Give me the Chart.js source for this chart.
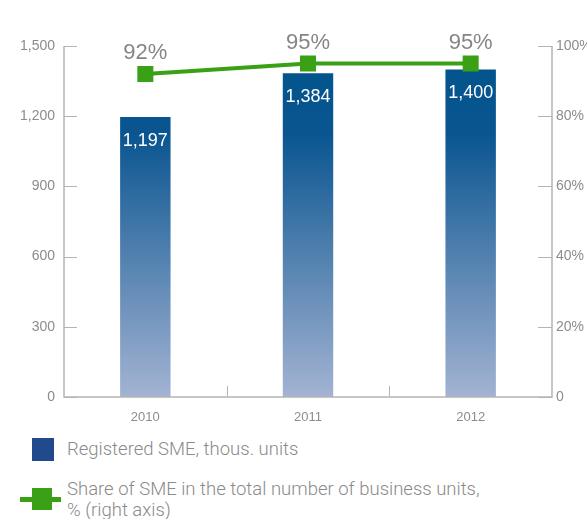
<!DOCTYPE html>
<html>
<head>
<meta charset="utf-8">
<script src="https://cdn.jsdelivr.net/npm/chart.js@4"></script>
<style>
  body { margin: 0; background: #fff; width: 587px; height: 519px; overflow: hidden; }
  #wrap { position: relative; width: 587px; height: 430px; }
  .legend { position: absolute; left: 0; top: 0; font-family: Roboto, sans-serif; font-weight: 300; font-size: 18.5px; color: #8a8a8a; }
  .legend .item { position: absolute; left: 67px; white-space: nowrap; line-height: 21px; }
  .sw { position: absolute; }
</style>
</head>
<body>
<div id="wrap"><canvas id="chart" width="587" height="430"></canvas></div>
<div class="legend">
  <div class="sw" style="left:32px; top:438px; width:22px; height:23px; background:#214a8c"></div>
  <div class="item" style="top:439px">Registered SME, thous. units</div>
  <div class="sw" style="left:20px; top:497px; width:41px; height:5px; background:#3aa015"></div>
  <div class="sw" style="left:32px; top:488px; width:20px; height:22px; background:#3aa015"></div>
  <div class="item" style="top:479px">Share of SME in the total number of business units,<br>% (right axis)</div>
</div>
<script>
// data
var years = ['2010', '2011', '2012'];
var smeCount = [1197, 1384, 1400];   // thous. units
var smeShare = [92, 95, 95];         // % of all business units
var leftTicks = [0, 300, 600, 900, 1200, 1500];
var rightTicks = [0, 20, 40, 60, 80, 100];

var axisColor = '#b4b4b4';
var textColor = '#8c8c8c';
var narrow = '"Liberation Sans Narrow", "Liberation Sans", sans-serif';

// inward tick marks and category dividers
var axisMarks = {
  id: 'axisMarks',
  afterDatasetsDraw: function(chart) {
    var ctx = chart.ctx, a = chart.chartArea;
    var y = chart.scales.y, y1 = chart.scales.y1, x = chart.scales.x;
    ctx.save();
    ctx.strokeStyle = axisColor;
    ctx.lineWidth = 1.5;
    ctx.beginPath();
    ctx.moveTo(a.left, a.top); ctx.lineTo(a.left, a.bottom); ctx.lineTo(a.right, a.bottom); ctx.lineTo(a.right, a.top);
    ctx.stroke();
    ctx.lineWidth = 1;
    ctx.beginPath();
    leftTicks.forEach(function(v) {
      var py = Math.round(y.getPixelForValue(v)) + 0.5;
      ctx.moveTo(a.left, py); ctx.lineTo(a.left + 13, py);
    });
    rightTicks.forEach(function(v) {
      var py = Math.round(y1.getPixelForValue(v)) + 0.5;
      ctx.moveTo(a.right, py); ctx.lineTo(a.right - 14, py);
    });
    for (var i = 0; i < years.length - 1; i++) {
      var px = Math.round((x.getPixelForValue(i) + x.getPixelForValue(i + 1)) / 2) + 0.5;
      ctx.moveTo(px, a.bottom); ctx.lineTo(px, a.bottom - 11);
    }
    ctx.stroke();
    ctx.restore();
  }
};

// value labels: bar values inside the bar tops, shares above the points
var valueLabels = {
  id: 'valueLabels',
  afterDatasetsDraw: function(chart) {
    var ctx = chart.ctx;
    ctx.save();
    ctx.textAlign = 'center';
    ctx.font = '18px ' + narrow;
    ctx.fillStyle = '#ffffff';
    ctx.textBaseline = 'top';
    chart.getDatasetMeta(1).data.forEach(function(bar, i) {
      ctx.fillText(smeCount[i].toLocaleString('en-US'), bar.x, bar.y + 15);
    });
    ctx.font = '22px ' + narrow;
    ctx.fillStyle = '#858585';
    ctx.textBaseline = 'bottom';
    chart.getDatasetMeta(0).data.forEach(function(pt, i) {
      ctx.fillText(smeShare[i] + '%', pt.x, pt.y - 10);
    });
    ctx.restore();
  }
};

var ctx = document.getElementById('chart').getContext('2d');

new Chart(ctx, {
  data: {
    labels: years,
    datasets: [{
      type: 'line',
      label: 'Share of SME in the total number of business units, % (right axis)',
      data: smeShare,
      yAxisID: 'y1',
      borderColor: '#3aa015',
      backgroundColor: '#3aa015',
      borderWidth: 4,
      pointStyle: 'rect',
      pointRadius: 8.5,
      pointHoverRadius: 8.5,
      order: 0
    }, {
      type: 'bar',
      label: 'Registered SME, thous. units',
      data: smeCount,
      yAxisID: 'y',
      categoryPercentage: 1,
      barPercentage: 0.31,
      backgroundColor: function(c) {
        var area = c.chart.chartArea;
        if (!area) return '#1f5b95';
        var g = c.chart.ctx.createLinearGradient(0, area.top, 0, area.bottom);
        g.addColorStop(0, '#00548c');
        g.addColorStop(0.25, '#0a5590');
        g.addColorStop(1, '#a3b3d3');
        return g;
      },
      order: 1
    }]
  },
  options: {
    responsive: false,
    animation: false,
    layout: { padding: { top: 46 } },
    plugins: { legend: { display: false }, tooltip: { enabled: false } },
    scales: {
      x: {
        offset: true,
        grid: { display: false, drawTicks: false },
        border: { display: false },
        ticks: { color: textColor, font: { family: narrow, size: 13 }, padding: 13 },
        afterFit: function(s) { s.height = 33; }
      },
      y: {
        position: 'left',
        min: 0, max: 1500,
        afterBuildTicks: function(s) { s.ticks = leftTicks.map(function(v) { return { value: v }; }); },
        grid: { display: false, drawTicks: false },
        border: { display: false },
        ticks: {
          color: textColor, font: { family: narrow, size: 14 }, padding: 9,
          callback: function(v) { return v.toLocaleString('en-US'); }
        },
        afterFit: function(s) { s.width = 64; }
      },
      y1: {
        position: 'right',
        min: 0, max: 100,
        afterBuildTicks: function(s) { s.ticks = rightTicks.map(function(v) { return { value: v }; }); },
        grid: { display: false, drawTicks: false },
        border: { display: false },
        ticks: {
          color: textColor, font: { family: narrow, size: 14 }, padding: 4,
          callback: function(v) { return v === 0 ? '0' : v + '%'; }
        },
        afterFit: function(s) { s.width = 35; }
      }
    }
  },
  plugins: [axisMarks, valueLabels]
});
</script>
</body>
</html>
